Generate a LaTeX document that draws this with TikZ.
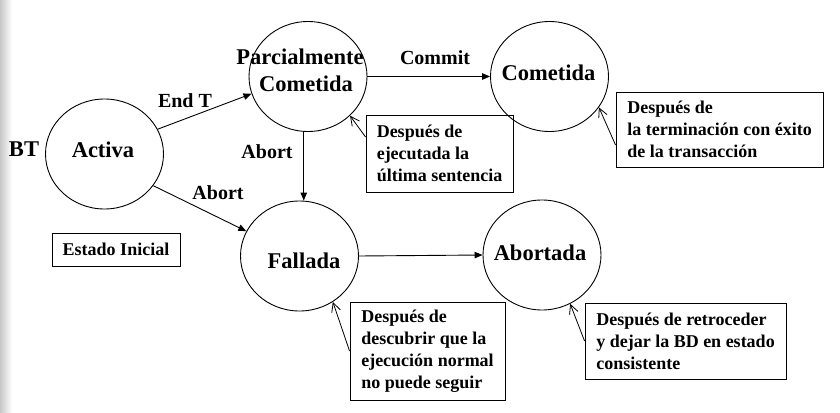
\documentclass[tikz,border=0pt]{standalone}
\usepackage{fontspec}
\setmainfont{Liberation Serif}
\usetikzlibrary{arrows.meta,shapes.geometric,calc}
\begin{document}
\begin{tikzpicture}[x=1pt,y=-1pt,
  state/.style={ellipse, draw, line width=0.9pt, minimum width=118pt, minimum height=110pt,
    inner sep=0pt},
  statetext/.style={inner sep=0pt, anchor=base, align=center, font=\bfseries\fontsize{22.5}{28}\selectfont},
  lbl/.style={inner sep=0pt, anchor=base, font=\bfseries\fontsize{20}{24}\selectfont},
  note/.style={draw, line width=0.9pt, align=left, inner sep=0pt,
    font=\bfseries\fontsize{18}{22}\selectfont},
  mainarrow/.style={-{Triangle[length=8pt,width=6.5pt]}, line width=0.9pt},
  notearrow/.style={-{Straight Barb[length=9pt,width=9pt]}, line width=0.8pt}
]
\useasboundingbox (0,0) rectangle (840,412);
\shade[left color=black!22, right color=white, draw=none] (0,0) rectangle (12,412);

% states
\node[state] (a)  at (104.5,154) {};
\node[state] (p)  at (308,76.5) {};
\node[state] (c)  at (549.5,76.5) {};
\node[state] (f)  at (299.5,256) {};
\node[state] (ab) at (542,255) {};

\node[statetext] (ta)  at (103,157) {Activa};
\node[statetext] (tp1) at (300,64) {Parcialmente};
\node[statetext] (tp2) at (306,92) {Cometida};
\node[statetext] (tc)  at (548.5,80) {Cometida};
\node[statetext] (tf)  at (304,268) {Fallada};
\node[statetext] (tab) at (540,260) {Abortada};
\node[statetext] (bt)  at (24,156) {BT};

% notes
\node[note, minimum width=128pt, minimum height=33pt] (ini) at (116,249.5) {Estado Inicial};
\node[note, minimum width=147pt, minimum height=77pt] (b1) at (439.5,153.5)
  {Después de\\ejecutada la\\última sentencia};
\node[note, minimum width=207pt, minimum height=75pt] (b2) at (719.5,129.5)
  {Después de\\la terminación con éxito\\de la transacción};
\node[note, minimum width=155pt, minimum height=98pt] (b3) at (427.5,351)
  {Después de\\descubrir que la\\ejecución normal\\no puede seguir};
\node[note, minimum width=201pt, minimum height=76pt] (b4) at (685.5,341)
  {Después de retroceder\\y dejar la BD en estado\\consistente};

% transitions
\draw[mainarrow] (a.25) -- (p.197);
\draw[mainarrow] (a.-33) -- (f.155);
\coordinate (mx) at ($(p.south)!0.5!(f.north)$);
\draw[mainarrow] (mx |- p.south) -- (mx |- f.north);
\draw[mainarrow] (p.east) -- (c.west);
\draw[mainarrow] (f.east) -- (ab.west);

% labels
\node[lbl] (lend) at (185,107) {End T};
\node[lbl] (lab1) at (267,158) {Abort};
\node[lbl] (lab2) at (218,199) {Abort};
\node[lbl] (lcom) at (435,65) {Commit};

% note arrows
\draw[notearrow] ([yshift=16.5pt]b1.west) -- (p.-43);
\draw[notearrow] ([yshift=-15.5pt]b2.west) -- (c.-32);
\draw[notearrow] (b3.west) -- (f.-54);
\draw[notearrow] (b4.west) -- (ab.-60);
\end{tikzpicture}
\end{document}
